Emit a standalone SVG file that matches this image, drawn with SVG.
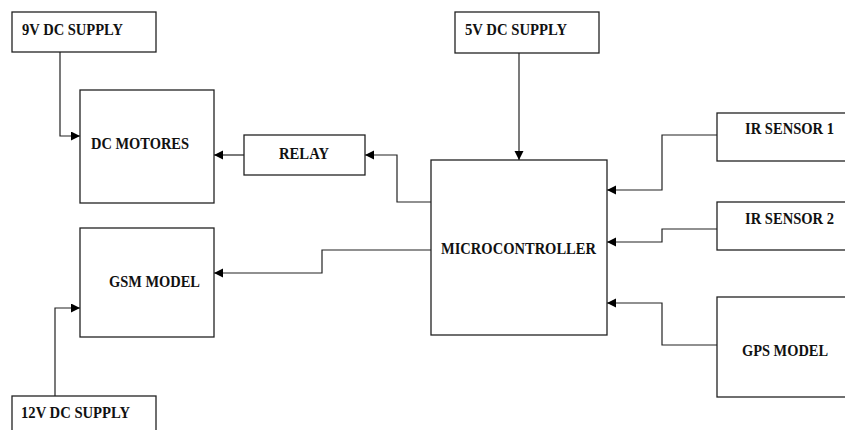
<svg xmlns="http://www.w3.org/2000/svg" width="845" height="430" viewBox="0 0 845 430">
<defs>
<style>
.box{fill:#fff;stroke:#222;stroke-width:1.3}
.lbl{font-family:"Liberation Serif","Times New Roman",serif;font-weight:bold;font-size:17px;fill:#111}
.con{fill:none;stroke:#222;stroke-width:1.2}
</style>
<marker id="arr" markerUnits="userSpaceOnUse" markerWidth="10" markerHeight="10" refX="9" refY="4.5" orient="auto">
<path d="M0,0 L9,4.5 L0,9 z" fill="#000"/>
</marker>
</defs>
<rect width="845" height="430" fill="#fff"/>
<g id="connectors">
<path class="con" d="M60,52 V136 H80" marker-end="url(#arr)"/>
<path class="con" d="M244,155 H214" marker-end="url(#arr)"/>
<path class="con" d="M431,202 H397 V155 H365" marker-end="url(#arr)"/>
<path class="con" d="M519,53 V160" marker-end="url(#arr)"/>
<path class="con" d="M717,135 H662 V190 H607" marker-end="url(#arr)"/>
<path class="con" d="M717,229 H662 V242 H607" marker-end="url(#arr)"/>
<path class="con" d="M717,345 H662 V303 H607" marker-end="url(#arr)"/>
<path class="con" d="M431,250 H322 V273 H214" marker-end="url(#arr)"/>
<path class="con" d="M55,396 V308 H80" marker-end="url(#arr)"/>
</g>
<g id="supply9v"><rect class="box" x="12" y="12" width="144" height="40"/><text class="lbl" x="22" y="35" textLength="101" lengthAdjust="spacingAndGlyphs">9V DC SUPPLY</text></g>
<g id="supply5v"><rect class="box" x="455" y="12" width="144" height="41"/><text class="lbl" x="465" y="35" textLength="102" lengthAdjust="spacingAndGlyphs">5V DC SUPPLY</text></g>
<g id="dcmotores"><rect class="box" x="80" y="90" width="134" height="113"/><text class="lbl" x="91" y="149" textLength="98" lengthAdjust="spacingAndGlyphs">DC MOTORES</text></g>
<g id="relay"><rect class="box" x="244" y="135" width="121" height="40"/><text class="lbl" x="279" y="159" textLength="50" lengthAdjust="spacingAndGlyphs">RELAY</text></g>
<g id="microcontroller"><rect class="box" x="431" y="160" width="176" height="175"/><text class="lbl" x="441" y="254" textLength="155" lengthAdjust="spacingAndGlyphs">MICROCONTROLLER</text></g>
<g id="irsensor1"><rect class="box" x="717" y="113" width="140" height="48"/><text class="lbl" x="745" y="134" textLength="89" lengthAdjust="spacingAndGlyphs">IR SENSOR 1</text></g>
<g id="irsensor2"><rect class="box" x="717" y="202" width="140" height="48"/><text class="lbl" x="745" y="224" textLength="89" lengthAdjust="spacingAndGlyphs">IR SENSOR 2</text></g>
<g id="gpsmodel"><rect class="box" x="717" y="297" width="140" height="100"/><text class="lbl" x="742" y="356" textLength="86" lengthAdjust="spacingAndGlyphs">GPS MODEL</text></g>
<g id="gsmmodel"><rect class="box" x="80" y="228" width="134" height="109"/><text class="lbl" x="109" y="287" textLength="91" lengthAdjust="spacingAndGlyphs">GSM MODEL</text></g>
<g id="supply12v"><rect class="box" x="12" y="396" width="144" height="50"/><text class="lbl" x="21" y="418" textLength="109" lengthAdjust="spacingAndGlyphs">12V DC SUPPLY</text></g>
</svg>
